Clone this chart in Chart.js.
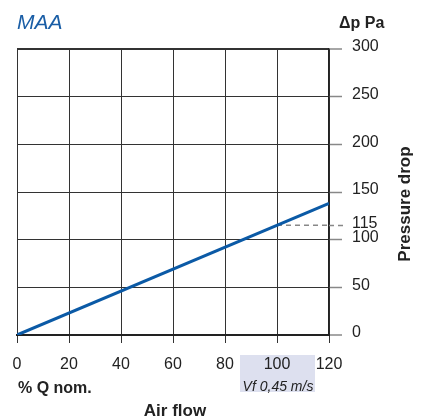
<!DOCTYPE html>
<html><head><meta charset="utf-8">
<script src="https://cdn.jsdelivr.net/npm/chart.js@4"></script>
<style>html,body{margin:0;padding:0;background:#fff}#wrap{width:426px;height:418px}</style>
</head><body><div id="wrap"><canvas id="c" width="426" height="418"></canvas></div>
<script>
const xTicks = [0, 20, 40, 60, 80, 100, 120];
const yTicks = [0, 50, 100, 115, 150, 200, 250, 300];
const flowPct = [0, 120];
const pressure = [0, 138];
const refFlow = [100, 120];
const refPressure = [115, 115];
const title = 'MAA';
const yUnit = '\u0394p Pa';
const yTitle = 'Pressure drop';
const xUnit = '% Q nom.';
const xTitle = 'Air flow';
const nominalNote = 'Vf 0,45 m/s';
const nominalX = 100;

const FONT = '"Liberation Sans", Arial, Helvetica, sans-serif';
const TXT = '#222';

const extras = {
  id: 'extras',
  beforeDraw(chart) {
    const ctx = chart.ctx, xs = chart.scales.x;
    const cx = xs.getPixelForValue(nominalX);
    ctx.save();
    ctx.fillStyle = '#dde0ef';
    ctx.fillRect(cx - 37, 355, 75, 37);
    ctx.restore();
  },
  afterDraw(chart) {
    const ctx = chart.ctx, xs = chart.scales.x, ys = chart.scales.y;
    const ca = chart.chartArea;
    ctx.save();
    const y115 = Math.round(ys.getPixelForValue(115)) + 0.5;
    ctx.strokeStyle = '#888';
    ctx.lineWidth = 1.5;
    ctx.setLineDash([5, 4]);
    ctx.beginPath();
    ctx.moveTo(ca.right, y115);
    ctx.lineTo(ca.right + 15, y115);
    ctx.stroke();
    ctx.setLineDash([]);
    ctx.fillStyle = '#1a5ea6';
    ctx.font = 'italic 21px ' + FONT;
    ctx.textBaseline = 'alphabetic';
    ctx.textAlign = 'left';
    ctx.fillText(title, 17, 29);
    ctx.fillStyle = TXT;
    ctx.font = 'bold 16px ' + FONT;
    ctx.fillText(yUnit, 339, 28);
    ctx.save();
    ctx.translate(410, 204);
    ctx.rotate(-Math.PI / 2);
    ctx.textAlign = 'center';
    ctx.font = 'bold 17px ' + FONT;
    ctx.fillText(yTitle, 0, 0);
    ctx.restore();
    ctx.font = 'bold 16px ' + FONT;
    ctx.textAlign = 'left';
    ctx.fillText(xUnit, 18, 393);
    ctx.font = 'italic 14px ' + FONT;
    ctx.textAlign = 'center';
    ctx.fillText(nominalNote, xs.getPixelForValue(nominalX) + 1, 391);
    ctx.font = 'bold 17px ' + FONT;
    ctx.fillText(xTitle, 175, 416);
    ctx.restore();
  }
};

new Chart(document.getElementById('c'), {
  type: 'line',
  data: {
    datasets: [
      {
        data: refFlow.map((x, i) => ({x, y: refPressure[i]})),
        borderColor: '#888', borderWidth: 1.5, borderDash: [5, 4],
        pointRadius: 0, fill: false, order: 2
      },
      {
        data: flowPct.map((x, i) => ({x, y: pressure[i]})),
        borderColor: '#0b5aa6', borderWidth: 3,
        pointRadius: 0, fill: false, order: 1
      }
    ]
  },
  options: {
    responsive: false,
    animation: false,
    events: [],
    layout: { padding: { top: 49, left: 17, right: 0, bottom: 0 } },
    plugins: { legend: { display: false }, tooltip: { enabled: false } },
    scales: {
      x: {
        type: 'linear', min: 0, max: 120,
        afterBuildTicks: s => { s.ticks = xTicks.map(v => ({value: v})); },
        afterFit: s => { s.height = 83; },
        grid: { color: '#333', lineWidth: 1, tickLength: 8, tickColor: '#333' },
        border: { color: '#222', width: 2 },
        ticks: { color: TXT, font: { family: FONT, size: 16 }, padding: 12, maxRotation: 0, autoSkip: false }
      },
      y: {
        type: 'linear', position: 'right', min: 0, max: 300,
        afterBuildTicks: s => { s.ticks = yTicks.map(v => ({value: v})); },
        afterFit: s => { s.width = 97; },
        grid: {
          color: c => (c.tick && c.tick.value === 115) ? 'rgba(0,0,0,0)' : (c.tick && c.tick.value === 0 ? '#222' : '#333'),
          lineWidth: c => (c.tick && (c.tick.value === 0 || c.tick.value === 300)) ? 2 : 1,
          tickLength: 13,
          tickColor: c => (c.tick && c.tick.value === 115) ? 'rgba(0,0,0,0)' : '#888',
          tickWidth: 1.5
        },
        border: { color: '#222', width: 1.5 },
        ticks: { color: TXT, font: { family: FONT, size: 16 }, padding: 10, labelOffset: -2, autoSkip: false }
      }
    }
  },
  plugins: [extras]
});
</script>
</body></html>
